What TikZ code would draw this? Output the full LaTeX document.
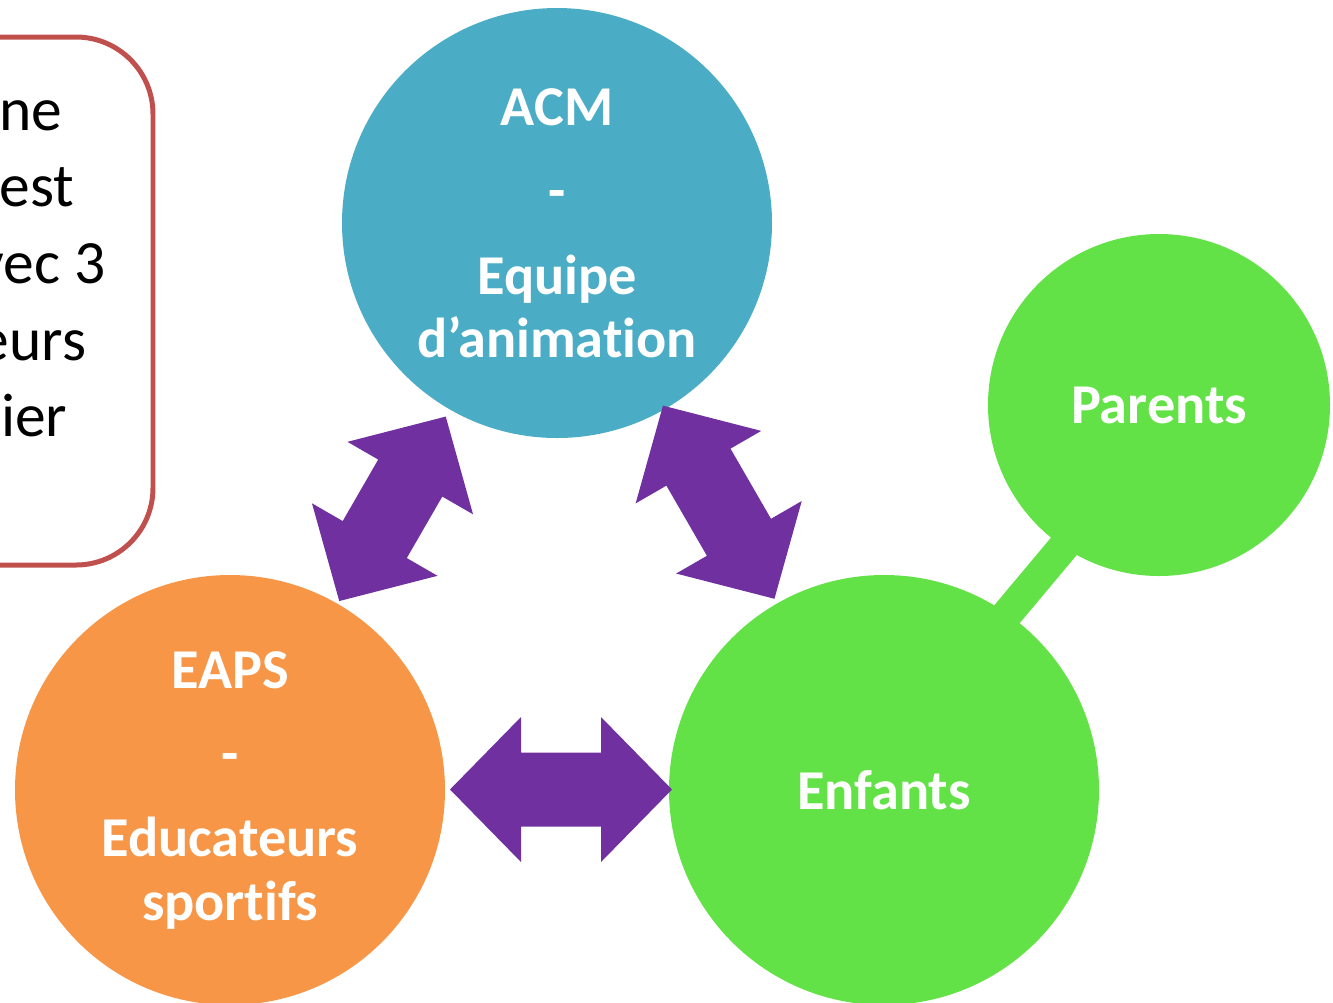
\documentclass[tikz,border=0pt]{standalone}
\usepackage{fontspec}
\setmainfont[RawFeature={-liga}]{Carlito}
\usepackage{tikz}
\usetikzlibrary{backgrounds}
\definecolor{AcmBlue}{RGB}{75,172,198}
\definecolor{EapsOrange}{RGB}{247,150,70}
\definecolor{EnfantsGreen}{RGB}{99,226,72}
\definecolor{LinkPurple}{RGB}{112,48,160}
\definecolor{BoxRed}{RGB}{192,80,77}

\begin{document}
\begin{tikzpicture}[x=0.01cm,y=-0.01cm,bubble/.style n args={2}{circle,fill=#1,minimum size=#2*0.01cm,inner sep=0pt,text=white,align=center,font=\fontsize{16}{18}\selectfont\bfseries},frag/.style={anchor=base east,inner sep=0pt,font=\fontsize{17.5}{21.7}\selectfont},pics/dblarrow/.style={code={
   \fill[LinkPurple] ({-#1/2},0) -- ({-#1/2+71},-72.5) -- ({-#1/2+71},-37) -- ({#1/2-71},-37) -- ({#1/2-71},-72.5) -- ({#1/2},0) -- ({#1/2-71},72.5) -- ({#1/2-71},37) -- ({-#1/2+71},37) -- ({-#1/2+71},72.5) -- cycle;
}}]
\useasboundingbox (0,0) rectangle (1333,1002);
\clip (0,0) rectangle (1333,1002);
\draw[BoxRed,line width=1.42pt,rounded corners=0.77cm] (-300,37) rectangle (153,565);
\foreach \txt/\xe/\yb [count=\i] in %
{ne/63/130,est/75/206.7,{vec 3}/106/283.3,eurs/87/360,ier/68/436.7} {
   \node[frag](frag\i) at (\xe,\yb) {\txt};
}
\node[bubble={AcmBlue}{430}](acm) at (557,223) {ACM\\[6pt]-\\[6pt]Equipe\\d’animation};
\node[bubble={EapsOrange}{430}](eaps) at (230,790) {EAPS\\[6pt]-\\[6pt]Educateurs\\sportifs};
\node[bubble={EnfantsGreen}{430}](enfants) at (884,790) {Enfants};
\node[bubble={EnfantsGreen}{342}](parents) at (1159,405) {Parents};
\begin{scope}[on background layer]
   \draw[EnfantsGreen,line width=8.8pt,shorten <=-8pt,shorten >=-8pt] (parents.236) -- (enfants.55);
\end{scope}
\pic[rotate=60] at (392.5,508.8) {dblarrow=213};
\pic[rotate=-60] at (718.7,502.2) {dblarrow=223};
\pic at (561,789.5) {dblarrow=222};
\end{tikzpicture}
\end{document}
